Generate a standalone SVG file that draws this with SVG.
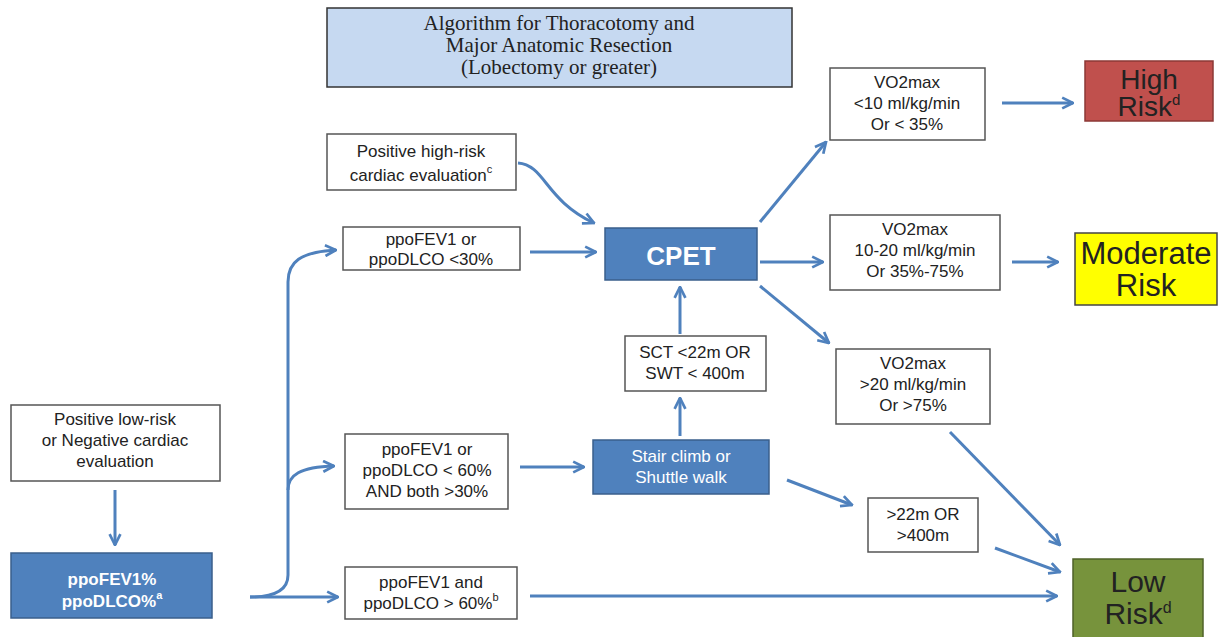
<svg xmlns="http://www.w3.org/2000/svg" width="1224" height="637" viewBox="0 0 1224 637">
<defs>
<marker id="ah" viewBox="0 0 10 10" refX="9" refY="5" markerWidth="4.5" markerHeight="4.5" orient="auto" markerUnits="strokeWidth">
<path d="M1,1 L9,5 L1,9" fill="none" stroke="#4f81bd" stroke-width="2"/>
</marker>
<style>
.box{fill:#fff;stroke:#555;stroke-width:1.5}
.blue{fill:#4f81bd;stroke:#3a5f8c;stroke-width:1.5}
.t{font-family:"Liberation Sans",Arial,sans-serif;font-size:17px;fill:#222;text-anchor:middle}
.w{font-family:"Liberation Sans",Arial,sans-serif;font-size:17px;fill:#fff;text-anchor:middle}
.big{font-family:"Liberation Sans",Arial,sans-serif;font-size:28px;fill:#222;text-anchor:middle}
.title{font-family:"Liberation Serif","Times New Roman",serif;font-size:21px;fill:#222;text-anchor:middle}
.c{fill:none;stroke:#4f81bd;stroke-width:3;marker-end:url(#ah)}
.cn{fill:none;stroke:#4f81bd;stroke-width:3}
</style>
</defs>
<rect width="1224" height="637" fill="#fff"/>
<g id="connectors">
<line class="c" x1="115" y1="490" x2="115" y2="545"/>
<path class="cn" d="M250,597 C275,597 288,590 288,575 L288,282"/>
<path class="c" d="M288,282 C288,262 300,252 336,250"/>
<path class="c" d="M288,490 C288,475 300,467 334,466"/>
<line class="c" x1="250" y1="597" x2="338" y2="597"/>
<line class="c" x1="530" y1="252" x2="596" y2="252"/>
<path class="c" d="M518,163 C545,165 545,200 594,223"/>
<line class="c" x1="520" y1="467" x2="584" y2="467"/>
<line class="c" x1="680" y1="436" x2="680" y2="398"/>
<line class="c" x1="680" y1="334" x2="680" y2="287"/>
<line class="c" x1="760" y1="222" x2="826" y2="142"/>
<line class="c" x1="760" y1="262" x2="823" y2="262"/>
<line class="c" x1="760" y1="286" x2="829" y2="343"/>
<line class="c" x1="1002" y1="103" x2="1073" y2="103"/>
<line class="c" x1="1012" y1="262" x2="1058" y2="262"/>
<line class="c" x1="950" y1="432" x2="1060" y2="545"/>
<line class="c" x1="995" y1="548" x2="1060" y2="572"/>
<line class="c" x1="787" y1="480" x2="852" y2="505"/>
<line class="c" x1="530" y1="596" x2="1057" y2="596"/>
</g>
<g id="title">
<rect x="327" y="8" width="465" height="79" fill="#c6d9f1" stroke="#333" stroke-width="1.5"/>
<text class="title" x="559" y="30">Algorithm for Thoracotomy and</text>
<text class="title" x="559" y="52">Major Anatomic Resection</text>
<text class="title" x="559" y="74">(Lobectomy or greater)</text>
</g>
<g id="highcardiac">
<rect class="box" x="327" y="134" width="189" height="56"/>
<text class="t" x="421" y="157">Positive high-risk</text>
<text class="t" x="421" y="181">cardiac evaluation<tspan style="font-size:11px" dy="-8">c</tspan></text>
</g>
<g id="lt30">
<rect class="box" x="343" y="227" width="177" height="43"/>
<text class="t" x="431" y="245">ppoFEV1 or</text>
<text class="t" x="431" y="265">ppoDLCO &lt;30%</text>
</g>
<g id="cpet">
<rect class="blue" x="605" y="228" width="152" height="52"/>
<text class="w" x="681" y="265" style="font-size:26px;font-weight:bold">CPET</text>
</g>
<g id="vo2low">
<rect class="box" x="830" y="68" width="155" height="72"/>
<text class="t" x="907" y="88">VO2max</text>
<text class="t" x="907" y="109">&lt;10 ml/kg/min</text>
<text class="t" x="907" y="130">Or &lt; 35%</text>
</g>
<g id="highrisk">
<rect x="1085" y="61" width="128" height="60" fill="#c0504d" stroke="#8c3836" stroke-width="1.5"/>
<text class="big" x="1149" y="89">High</text>
<text class="big" x="1149" y="116">Risk<tspan style="font-size:15px" dy="-11">d</tspan></text>
</g>
<g id="vo2mid">
<rect class="box" x="830" y="215" width="170" height="75"/>
<text class="t" x="915" y="235">VO2max</text>
<text class="t" x="915" y="256">10-20 ml/kg/min</text>
<text class="t" x="915" y="277">Or 35%-75%</text>
</g>
<g id="modrisk">
<rect x="1075" y="233" width="142" height="72" fill="#ffff00" stroke="#444" stroke-width="1.5"/>
<text class="big" x="1146" y="264" style="font-size:31px">Moderate</text>
<text class="big" x="1146" y="296" style="font-size:31px">Risk</text>
</g>
<g id="vo2high">
<rect class="box" x="836" y="349" width="154" height="75"/>
<text class="t" x="913" y="369">VO2max</text>
<text class="t" x="913" y="390">&gt;20 ml/kg/min</text>
<text class="t" x="913" y="411">Or  &gt;75%</text>
</g>
<g id="gt22">
<rect class="box" x="868" y="498" width="110" height="54"/>
<text class="t" x="923" y="520">&gt;22m OR</text>
<text class="t" x="923" y="541">&gt;400m</text>
</g>
<g id="lowrisk">
<rect x="1073" y="559" width="130" height="80" fill="#77933c" stroke="#4f6228" stroke-width="1.5"/>
<text class="big" x="1138" y="592" style="font-size:30px">Low</text>
<text class="big" x="1138" y="624" style="font-size:30px">Risk<tspan style="font-size:16px" dy="-11">d</tspan></text>
</g>
<g id="sct">
<rect class="box" x="625" y="336" width="141" height="55"/>
<text class="t" x="695" y="358">SCT &lt;22m OR</text>
<text class="t" x="695" y="379">SWT &lt; 400m</text>
</g>
<g id="stair">
<rect class="blue" x="593" y="440" width="176" height="54"/>
<text class="w" x="681" y="462">Stair climb or</text>
<text class="w" x="681" y="483">Shuttle walk</text>
</g>
<g id="lt60">
<rect class="box" x="345" y="434" width="163" height="75"/>
<text class="t" x="427" y="455">ppoFEV1 or</text>
<text class="t" x="427" y="476">ppoDLCO &lt; 60%</text>
<text class="t" x="427" y="497">AND both &gt;30%</text>
</g>
<g id="gt60">
<rect class="box" x="345" y="567" width="172" height="52"/>
<text class="t" x="431" y="588">ppoFEV1 and</text>
<text class="t" x="431" y="609">ppoDLCO &gt; 60%<tspan style="font-size:11px" dy="-8">b</tspan></text>
</g>
<g id="lowcardiac">
<rect class="box" x="11" y="405" width="209" height="76"/>
<text class="t" x="115" y="425">Positive low-risk</text>
<text class="t" x="115" y="446">or Negative cardiac</text>
<text class="t" x="115" y="467">evaluation</text>
</g>
<g id="ppo">
<rect class="blue" x="11" y="553" width="201" height="65"/>
<text class="w" x="112" y="585" style="font-weight:bold">ppoFEV1%</text>
<text class="w" x="112" y="607" style="font-weight:bold">ppoDLCO%<tspan style="font-size:11px" dy="-8">a</tspan></text>
</g>
</svg>
